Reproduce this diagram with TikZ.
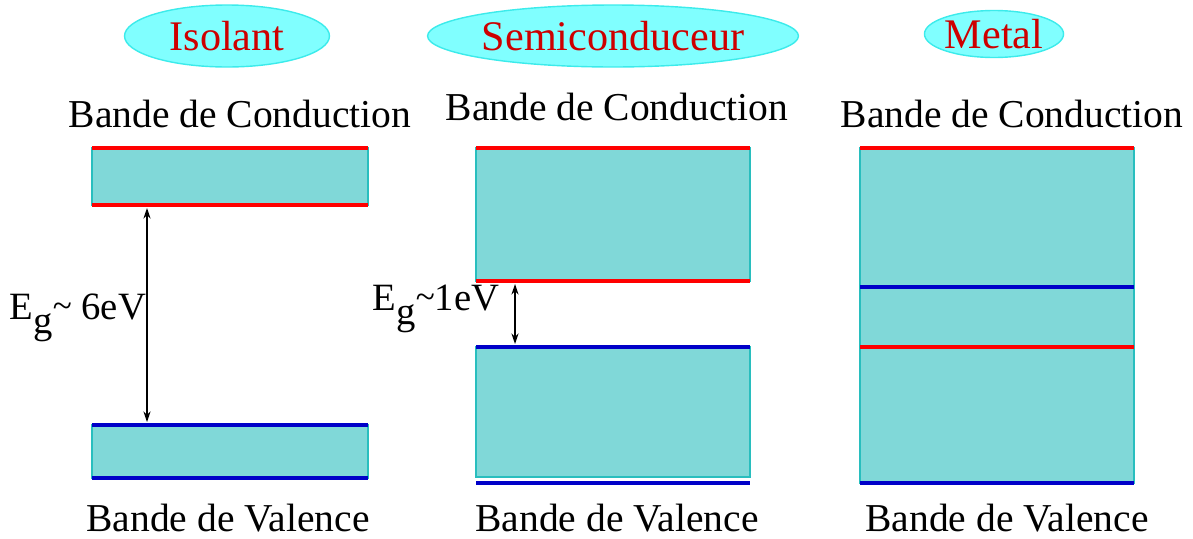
\documentclass[tikz,border=0pt]{standalone}
\usepackage{fontspec}
\setmainfont{Liberation Serif}
\usepackage{xcolor}
\usetikzlibrary{arrows.meta,shapes.geometric}
\definecolor{bandfill}{RGB}{128,216,216}
\definecolor{bandedge}{RGB}{40,190,190}
\definecolor{cbred}{RGB}{255,0,0}
\definecolor{vbblue}{RGB}{0,0,200}
\definecolor{ellfill}{RGB}{128,255,255}
\definecolor{elledge}{RGB}{60,235,235}
\definecolor{titred}{RGB}{205,0,0}
\tikzset{
  band/.style  ={fill=bandfill, draw=bandedge, line width=0.8pt},
  cbl/.style   ={draw=cbred, line width=2.8pt},
  vbl/.style   ={draw=vbblue, line width=2.8pt},
  titl/.style  ={ellipse, fill=ellfill, draw=elledge, line width=0.8pt, inner sep=0pt,
                 text=titred, font=\fontsize{24}{28}\selectfont},
  lab/.style   ={font=\fontsize{22.5}{26}\selectfont, inner sep=0pt},
  gaplab/.style={font=\fontsize{22}{26}\selectfont, inner sep=0pt},
  gap/.style   ={draw=black, line width=0.7pt, {Stealth[length=6pt,width=4pt]}-{Stealth[length=6pt,width=4pt]}},
}
\newcommand{\egap}[1]{E\raisebox{-0.35em}{g}\raisebox{0.05em}{\fontsize{20}{20}\selectfont\textasciitilde}#1}
\begin{document}
\begin{tikzpicture}[x=0.02cm,y=-0.02cm]
  \useasboundingbox (0,0) rectangle (1193,538);
  % titles
  \node[titl,minimum width=4.1cm,minimum height=1.24cm] (tiso) at (227,36) {Isolant};
  \node[titl,minimum width=6.2cm,minimum height=1.24cm] (tsem) at (613,36) {Semiconduceur};
  \node[titl,minimum width=2.76cm,minimum height=0.94cm] (tmet) at (994,34) {Metal};
  % isolant
  \begin{scope}
  \draw[band] (92,148) rectangle (368,205);
  \draw[cbl] (92,148) -- (368,148);
  \draw[cbl] (92,205) -- (368,205);
  \draw[band] (92,425) rectangle (368,478);
  \draw[vbl] (92,425) -- (368,425);
  \draw[vbl] (92,478) -- (368,478);
  \coordinate (gi1) at (147,208);
  \coordinate (gi2) at (147,422);
  \draw[gap] (gi1) -- (gi2);
  \node[gaplab] (egi) at (78,318) {\egap{ 6eV}};
  \node[lab] (cbi) at (240,114) {Bande de Conduction};
  \node[lab] (vbi) at (228,518) {Bande de Valence};
  \end{scope}
  % semiconducteur
  \begin{scope}
  \draw[band] (476,148) rectangle (750,281);
  \draw[cbl] (476,148) -- (750,148);
  \draw[cbl] (476,281) -- (750,281);
  \draw[band] (476,347) rectangle (750,477);
  \draw[vbl] (476,347) -- (750,347);
  \draw[vbl] (476,483) -- (750,483);
  \coordinate (gs1) at (515,284);
  \coordinate (gs2) at (515,344);
  \draw[gap] (gs1) -- (gs2);
  \node[gaplab] (egs) at (436,309) {\egap{1eV}};
  \node[lab] (cbs) at (617,107) {Bande de Conduction};
  \node[lab] (vbs) at (617,518) {Bande de Valence};
  \end{scope}
  % metal
  \begin{scope}
  \draw[band] (860,148) rectangle (1134,483);
  \draw[cbl] (860,148) -- (1134,148);
  \draw[vbl] (860,287) -- (1134,287);
  \draw[cbl] (860,347) -- (1134,347);
  \draw[vbl] (860,483) -- (1134,483);
  \node[lab] (cbm) at (1012,114) {Bande de Conduction};
  \node[lab] (vbm) at (1007,518) {Bande de Valence};
  \end{scope}
\end{tikzpicture}
\end{document}
